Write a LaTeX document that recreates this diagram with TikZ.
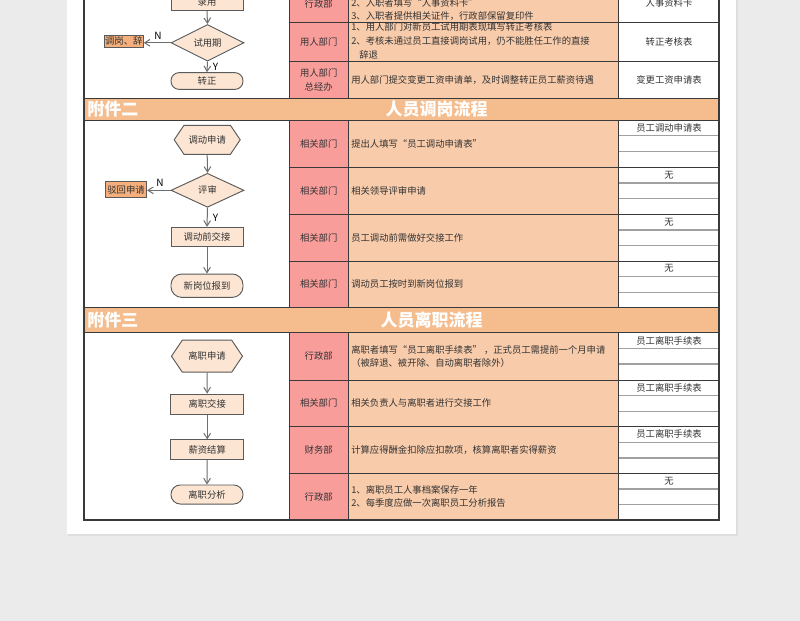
\documentclass[tikz,border=0pt]{standalone}
\usepackage{fontspec}
\setmainfont{Noto Sans CJK SC}
\usetikzlibrary{shapes.geometric,shapes.symbols,arrows.meta}
\definecolor{bgout}{HTML}{EBEBEB}
\definecolor{deptc}{HTML}{F99D9B}
\definecolor{contc}{HTML}{F8CBAA}
\definecolor{headc}{HTML}{F5BD8E}
\definecolor{shapec}{HTML}{FCE5D2}
\definecolor{rejc}{HTML}{F4AF7C}
\definecolor{gridc}{HTML}{3A3A3A}
\definecolor{subc}{HTML}{A0A0A0}
\definecolor{inkc}{HTML}{333333}
\definecolor{arrc}{HTML}{6E6E6E}
\definecolor{shapeb}{HTML}{5A5A5A}
\begin{document}
\begin{tikzpicture}[x=0.75pt,y=-0.75pt,
  celltext/.style={font=\fontsize{7}{8}\selectfont, text=inkc, inner sep=0},
  headtext/.style={font=\fontsize{12.75}{14}\selectfont\bfseries, text=white, inner sep=0},
  yn/.style={font=\fontsize{7.5}{8}\selectfont, text=black, inner sep=0},
  fbase/.style={draw=shapeb, fill=shapec, line width=0.7pt, inner sep=0, font=\fontsize{7}{8}\selectfont, text=inkc},
  frect/.style={fbase, rectangle, minimum width=54pt, minimum height=14.6pt},
  fround/.style={fbase, rectangle, rounded corners=7pt, minimum width=54pt, minimum height=14.2pt},
  fdiam/.style={fbase, diamond, minimum width=54.75pt, minimum height=24.75pt},
  fhex/.style={fbase, signal, signal to=west and east, signal pointer angle=112},
  frej/.style={draw=shapeb, fill=rejc, line width=0.6pt, inner sep=0, font=\fontsize{7}{8}\selectfont, text=inkc, rectangle},
  flowarrow/.style={draw=arrc, line width=0.75pt, -{Straight Barb[length=4pt,width=5pt]}},
  gridline/.style={draw=gridc, line width=0.75pt},
  subline/.style={draw=subc, line width=0.9pt}
]
\useasboundingbox (0,0) rectangle (800,621);
\clip (0,0) rectangle (800,621);
% page background and card
\fill[bgout] (0,0) rectangle (800,621);
\fill[black!13] (68,-5) rectangle (737.5,535.5);
\fill[white] (67,-5) rectangle (736,534);

% fills
\fill[deptc] (289,-20) rectangle (348.5,98.3);
\fill[contc] (348.5,-20) rectangle (618.5,98.3);
\fill[headc] (84,98.3) rectangle (719,120);
\fill[deptc] (289,120) rectangle (348.5,307.7);
\fill[contc] (348.5,120) rectangle (618.5,307.7);
\fill[headc] (84,307.7) rectangle (719,332.7);
\fill[deptc] (289,332.7) rectangle (348.5,520);
\fill[contc] (348.5,332.7) rectangle (618.5,520);

% sub lines in form column
\foreach \t in {120,167.3,214.3,261,332.7,380,426.7,473.3}{
  \draw[subline] (618.5,\t+15.7) -- (719,\t+15.7);
  \draw[subline] (618.5,\t+31.3) -- (719,\t+31.3);
}
% vertical grid lines
\foreach \x in {289,348.5,618.5}{
  \draw[gridline] (\x,-20) -- (\x,98.3);
  \draw[gridline] (\x,120) -- (\x,307.7);
  \draw[gridline] (\x,332.7) -- (\x,520);
}
% row lines
\foreach \y in {22.7,61,167.3,214.3,261,380,426.7,473.3}{
  \draw[gridline] (289,\y) -- (719,\y);
}
\foreach \y in {98.3,120,307.7,332.7}{
  \draw[gridline] (84,\y) -- (719,\y);
}
\draw[draw=gridc, line width=1.1pt] (84,-20) rectangle (719,520);

% headers
\node[headtext, anchor=west] (h2a) at (87,109.2) {附件二};
\node[headtext] (h2b) at (436.5,109.2) {人员调岗流程};
\node[headtext, anchor=west] (h3a) at (87,320.2) {附件三};
\node[headtext] (h3b) at (431.5,320.2) {人员离职流程};

% ---------- section 1 (partial) ----------
\node[celltext] (d11) at (318.7,3.5) {行政部};
\node[celltext] (d12) at (318.7,41.8) {用人部门};
\node[celltext] (d13a) at (318.7,73) {用人部门};
\node[celltext] (d13b) at (318.7,86.8) {总经办};
\node[celltext, anchor=west] (c11b) at (351,3.3) {2、入职者填写“人事资料卡”};
\node[celltext, anchor=west] (c11c) at (351,16.2) {3、入职者提供相关证件，行政部保留复印件};
\node[celltext, anchor=west] (c12a) at (351,27) {1、用人部门对新员工试用期表现填写转正考核表};
\node[celltext, anchor=west] (c12b) at (351,41.3) {2、考核未通过员工直接调岗试用，仍不能胜任工作的直接};
\node[celltext, anchor=west] (c12c) at (359,54.5) {辞退};
\node[celltext, anchor=west] (c13) at (351,80) {用人部门提交变更工资申请单，及时调整转正员工薪资待遇};
\node[celltext] (f11) at (669,3) {人事资料卡};
\node[celltext] (f12) at (669,41.5) {转正考核表};
\node[celltext] (f13) at (669,80) {变更工资申请表};

\node[frect, minimum height=13.3pt] (s1a) at (207,1.8) {录用};
\node[fdiam, minimum width=54.75pt, minimum height=24.2pt] (s1b) at (207.5,42.8) {试用期};
\node[frej, minimum width=29.25pt, minimum height=9.5pt] (s1r) at (123.8,41.3) {调岗、辞};
\node[fround, minimum height=12.5pt, rounded corners=6pt] (s1c) at (207,81) {转正};
\draw[flowarrow] (s1a.south) -- (s1b.north);
\draw[flowarrow] (s1b.west) -- (s1r.east |- s1b.west);
\draw[flowarrow] (s1b.south) -- (s1c.north);
\node[yn] (n1) at (158,35.5) {N};
\node[yn] (y1) at (215.5,66.5) {Y};

% ---------- section 2 ----------
\foreach \yy/\nm in {143.7/d21,190.8/d22,237.7/d23,284.3/d24}{
  \node[celltext] (\nm) at (318.7,\yy) {相关部门};
}
\node[celltext, anchor=west] (c21) at (351,143.7) {提出人填写“员工调动申请表”};
\node[celltext, anchor=west] (c22) at (351,190.8) {相关领导评审申请};
\node[celltext, anchor=west] (c23) at (351,237.7) {员工调动前需做好交接工作};
\node[celltext, anchor=west] (c24) at (351,284.3) {调动员工按时到新岗位报到};
\node[celltext] (f21) at (669,128) {员工调动申请表};
\node[celltext] (f22) at (669,175) {无};
\node[celltext] (f23) at (669,222) {无};
\node[celltext] (f24) at (669,268.7) {无};

\node[fhex, minimum width=49.5pt, minimum height=21.75pt] (s2a) at (207.2,139.8) {调动申请};
\node[fdiam, minimum height=25.5pt] (s2b) at (207.5,190.3) {评审};
\node[frej, minimum width=31pt, minimum height=11.7pt] (s2r) at (126,189.5) {驳回申请};
\node[frect] (s2c) at (207,237) {调动前交接};
\node[fround, minimum height=17.5pt, rounded corners=8pt] (s2d) at (207,285.7) {新岗位报到};
\draw[flowarrow] (s2a.south) -- (s2b.north);
\draw[flowarrow] (s2b.west) -- (s2r.east |- s2b.west);
\draw[flowarrow] (s2b.south) -- (s2c.north);
\draw[flowarrow] (s2c.south) -- (s2d.north);
\node[yn] (n2) at (160,182.7) {N};
\node[yn] (y2) at (215.5,218) {Y};

% ---------- section 3 ----------
\node[celltext] (d31) at (318.7,356.3) {行政部};
\node[celltext] (d32) at (318.7,403.3) {相关部门};
\node[celltext] (d33) at (318.7,450) {财务部};
\node[celltext] (d34) at (318.7,496.7) {行政部};
\node[celltext, anchor=west] (c31a) at (351,350) {离职者填写“员工离职手续表” ，正式员工需提前一个月申请};
\node[celltext, anchor=west] (c31b) at (351,363) {（被辞退、被开除、自动离职者除外）};
\node[celltext, anchor=west] (c32) at (351,403.3) {相关负责人与离职者进行交接工作};
\node[celltext, anchor=west] (c33) at (351,450) {计算应得酬金扣除应扣款项，核算离职者实得薪资};
\node[celltext, anchor=west] (c34a) at (351,490) {1、离职员工人事档案保存一年};
\node[celltext, anchor=west] (c34b) at (351,503.3) {2、每季度应做一次离职员工分析报告};
\node[celltext] (f31) at (669,340.7) {员工离职手续表};
\node[celltext] (f32) at (669,387.7) {员工离职手续表};
\node[celltext] (f33) at (669,434.3) {员工离职手续表};
\node[celltext] (f34) at (669,481) {无};

\node[fhex, minimum width=53.25pt, minimum height=24pt] (s3a) at (207,356.2) {离职申请};
\node[frect, minimum width=54.5pt, minimum height=15.2pt] (s3b) at (207.2,404.2) {离职交接};
\node[frect, minimum width=54.5pt, minimum height=14.8pt] (s3c) at (207.2,449.8) {薪资结算};
\node[fround, minimum height=14.3pt] (s3d) at (207,494.5) {离职分析};
\draw[flowarrow] (s3a.south) -- (s3b.north);
\draw[flowarrow] (s3b.south) -- (s3c.north);
\draw[flowarrow] (s3c.south) -- (s3d.north);
\end{tikzpicture}
\end{document}
